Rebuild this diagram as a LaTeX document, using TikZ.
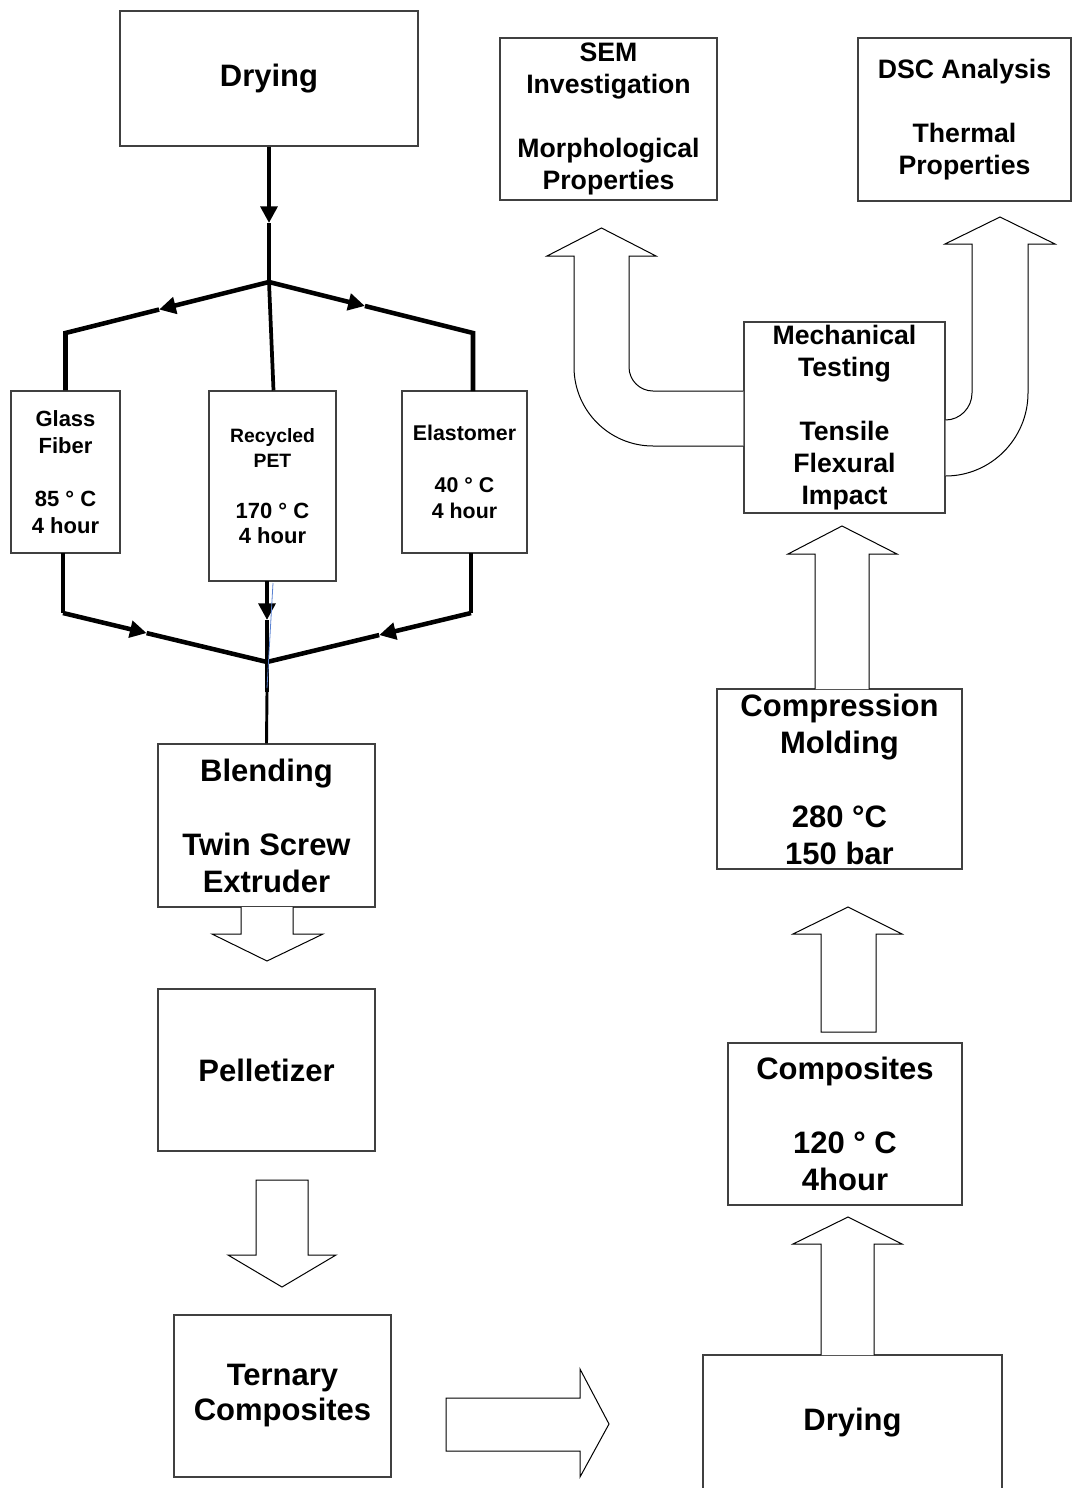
\documentclass[tikz,border=0pt]{standalone}
\usepackage{fontspec}
\setmainfont{Liberation Sans}
\usetikzlibrary{arrows.meta,calc}
\begin{document}
\begin{tikzpicture}[x=0.75pt,y=-0.75pt,
  box/.style={draw=black!75,line width=0.8pt,fill=white,inner sep=0pt,align=center,font=\bfseries},
  wh/.style 2 args={minimum width=#1*0.75pt,minimum height=#2*0.75pt},
  big/.style={font=\fontsize{23.25}{27.75}\selectfont\bfseries},
  mid/.style={font=\fontsize{20}{24}\selectfont\bfseries},
  small/.style={font=\fontsize{16.5}{20}\selectfont\bfseries},
  conn/.style={line width=3.4pt,line cap=butt,line join=miter},
  tip/.style={-{Triangle[length=12.5pt,width=12.5pt]}},
  blockarrow/.style={draw=black,line width=0.75pt,fill=white,line join=miter}]
\useasboundingbox (0,0) rectangle (1072,1488);
\clip (0,0) rectangle (1072,1488);

% boxes
\node[box,big,wh={298}{135}] (dry1) at (269,78.5) {Drying};
\node[box,mid,wh={217}{162}] (sem) at (608.5,119) {SEM\\Investigation\\~\\Morphological\\Properties};
\node[box,mid,wh={213}{163}] (dsc) at (964.5,119.5) {DSC Analysis\\~\\Thermal\\Properties};
\node[box,small,wh={109}{162}] (glass) at (65.5,472) {Glass\\Fiber\\~\\85 ° C\\4 hour};
\node[box,wh={127}{190},font=\fontsize{14.5}{19}\selectfont\bfseries] (pet) at (272.5,486)
  {Recycled\\PET\\~\\{\fontsize{16.5}{19}\selectfont 170 ° C}\\{\fontsize{16.5}{19}\selectfont 4 hour}};
\node[box,wh={125}{162},font=\fontsize{16}{19.5}\selectfont\bfseries] (elast) at (464.5,472) {Elastomer\\~\\40 ° C\\4 hour};
\node[box,big,wh={217}{163}] (blend) at (266.5,825.5) {Blending\\~\\Twin Screw\\Extruder};
\node[box,big,wh={217}{162}] (pell) at (266.5,1070) {Pelletizer};
\node[box,big,wh={217}{162},font=\fontsize{23.25}{26.25}\selectfont\bfseries] (tern) at (282.5,1396) {Ternary\\Composites};
\node[box,big,wh={299}{136}] (dry2) at (852.5,1423) {Drying};
\node[box,big,wh={234}{162}] (comp) at (845,1124) {Composites\\~\\120 ° C\\4hour};
\node[box,big,wh={245}{180}] (cmold) at (839.5,779) {Compression\\Molding\\~\\280 °C\\150 bar};
\node[box,mid,wh={201}{191}] (mech) at (844.5,417.5) {Mechanical\\Testing\\~\\Tensile\\Flexural\\Impact};

% top splitter
\coordinate (j1) at (269,282);
\coordinate (a0) at (269,223);
\coordinate (c1) at (65.5,333);
\coordinate (c2) at (473,333);
\coordinate (e2) at (473,391);
\draw[conn,tip] (dry1.south) -- (a0);
\draw[conn] (a0) -- (j1);
\coordinate (a1) at ($(j1)!0.54!(c1)$);
\coordinate (a2) at ($(j1)!0.47!(c2)$);
\draw[conn,tip] (j1) -- (a1);
\draw[conn] (a1) -- (c1) -- (glass.north);
\draw[conn,tip] (j1) -- (a2);
\draw[conn] (a2) -- (c2) -- (e2);
\draw[line width=2.8pt] (j1) -- ($(pet.north)+(1,0)$);

% bottom merge
\coordinate (j2) at (267,662);
\coordinate (g1) at (63,553);
\coordinate (c3) at (63,613);
\coordinate (e3) at (471,553);
\coordinate (c4) at (471,613);
\coordinate (p1) at (267,581);
\coordinate (p2) at (267,620);
\coordinate (j3) at (267,692);
\coordinate (b1) at ($(c3)!0.41!(j2)$);
\coordinate (b2) at ($(c4)!0.45!(j2)$);
\draw[conn] (g1) -- (c3);
\draw[conn,tip] (c3) -- (b1);
\draw[conn] (b1) -- (j2);
\draw[conn] (e3) -- (c4);
\draw[conn,tip] (c4) -- (b2);
\draw[conn] (b2) -- (j2);
\draw[conn,tip] (p1) -- (p2);
\draw[conn] (p2) -- (j2) -- (j3);
\draw[line width=2.2pt] (j3) -- (blend.north);
\draw[color={rgb,255:red,90;green,130;blue,210},line width=0.6pt] (273,583) -- (267,688);

% block arrows down
\draw[blockarrow] (241,907) -- (241,934) -- (212,934) -- (267,961) -- (323,934) -- (293,934) -- (293,907);
\draw[blockarrow] (256,1180) -- (256,1255) -- (228,1255) -- (282,1287) -- (336,1255) -- (308,1255) -- (308,1180) -- cycle;
% block arrow right
\draw[blockarrow] (446,1398) -- (580,1398) -- (580,1369) -- (609,1424) -- (580,1477) -- (580,1451) -- (446,1451) -- cycle;
% block arrows up
\draw[blockarrow] (821,1355) -- (821,1244) -- (793,1244) -- (848,1217) -- (902,1244) -- (874,1244) -- (874,1355);
\draw[blockarrow] (821,1032) -- (821,934) -- (793,934) -- (848,907) -- (902,934) -- (876,934) -- (876,1032) -- cycle;
\draw[blockarrow] (815,689) -- (815,554) -- (788,554) -- (842,526) -- (897,554) -- (869,554) -- (869,689);

% bent arrows
\draw[blockarrow] (mech.west |- 0,446) -- (653,446) .. controls (609.4,446) and (574,410.6) .. (574,367)
  -- (574,256) -- (547,256) -- (601.5,228) -- (656,256) -- (629,256) -- (629,367)
  .. controls (629,380.3) and (639.7,391) .. (653,391) -- (mech.west |- 0,391);
\draw[blockarrow] (mech.east |- 0,420) .. controls (959.9,420) and (972,407.9) .. (972,393)
  -- (972,244) -- (945,244) -- (1000,217) -- (1055,244) -- (1028,244) -- (1028,393)
  .. controls (1028,438.8) and (990.8,476) .. (mech.east |- 0,476);
\end{tikzpicture}
\end{document}
